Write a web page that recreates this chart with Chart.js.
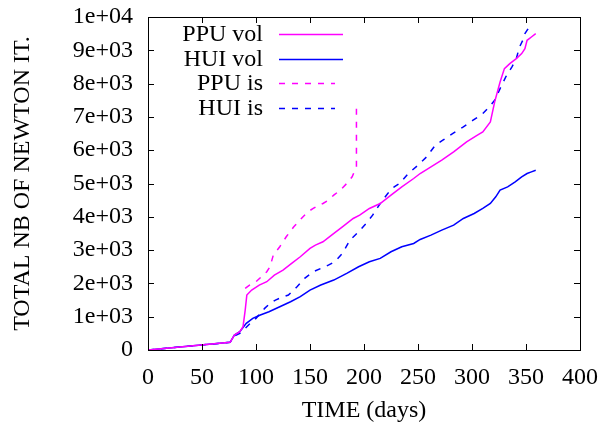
<!DOCTYPE html>
<html>
<head>
<meta charset="utf-8">
<script src="https://cdn.jsdelivr.net/npm/chart.js@4"></script>
<style>html,body{margin:0;padding:0;background:#fff;}canvas{display:block;}</style>
</head>
<body>
<canvas id="c" width="602" height="423"></canvas>
<script>
// ---- data ----
const seriesNames = ['PPU vol', 'HUI vol', 'PPU is', 'HUI is'];

const ppuVolDays = [0, 76, 80, 85, 88, 90, 91.5, 96, 103, 110, 117, 125, 133, 141, 150, 155, 162, 170, 180, 190, 196, 205, 215, 225, 235, 246, 252, 262, 272, 283, 295, 305, 310, 317, 321, 326, 330, 335, 341, 346, 349, 351, 355, 359];
const ppuVolValues = [0, 230, 450, 550, 700, 1200, 1650, 1800, 1950, 2050, 2250, 2400, 2600, 2800, 3050, 3150, 3250, 3450, 3700, 3950, 4050, 4250, 4400, 4650, 4900, 5150, 5300, 5500, 5700, 5950, 6250, 6450, 6550, 6850, 7450, 8050, 8450, 8600, 8750, 8900, 9050, 9300, 9400, 9500];

const huiVolDays = [0, 76, 80, 85, 91, 97, 104, 112, 122, 132, 141, 150, 160, 172, 184, 195, 205, 215, 225, 235, 246, 252, 262, 272, 283, 292, 302, 310, 317, 322, 326, 333, 340, 346, 351, 355, 359];
const huiVolValues = [0, 230, 450, 550, 800, 950, 1050, 1150, 1300, 1450, 1600, 1800, 1950, 2100, 2300, 2500, 2650, 2750, 2950, 3100, 3200, 3320, 3450, 3600, 3750, 3950, 4100, 4250, 4400, 4600, 4800, 4900, 5050, 5200, 5300, 5350, 5400];

const ppuIsDays = [90, 94, 100, 105, 110, 113, 116, 122, 128, 135, 142, 148, 153, 158, 162, 167, 172, 178, 184, 189, 193, 193];
const ppuIsValues = [1850, 1950, 2050, 2200, 2350, 2500, 2850, 3100, 3400, 3700, 3950, 4150, 4250, 4350, 4400, 4500, 4650, 4800, 5000, 5200, 5500, 7300];

const huiIsDays = [0, 76, 80, 85, 90, 94, 100, 108, 113, 118, 124, 130, 138, 145, 153, 160, 167, 173, 180, 187, 195, 202, 208, 215, 222, 228, 233, 241, 250, 258, 266, 273, 282, 292, 301, 310, 316, 321, 326, 332, 337, 341, 344, 347, 349, 352, 355, 357];
const huiIsValues = [0, 230, 420, 500, 650, 780, 950, 1250, 1400, 1500, 1580, 1650, 1900, 2150, 2350, 2450, 2550, 2650, 2900, 3300, 3550, 3800, 4050, 4400, 4700, 4900, 5000, 5300, 5550, 5800, 6150, 6300, 6500, 6700, 6900, 7100, 7300, 7500, 7850, 8250, 8500, 8750, 9100, 9300, 9500, 9650, 9700, 9750];

const xTickValues = [0, 50, 100, 150, 200, 250, 300, 350, 400];
const yTickValues = [0, 1000, 2000, 3000, 4000, 5000, 6000, 7000, 8000, 9000, 10000];
const yTickLabels = ['0', '1e+03', '2e+03', '3e+03', '4e+03', '5e+03', '6e+03', '7e+03', '8e+03', '9e+03', '1e+04'];

const xTitle = 'TIME (days)';
const yTitle = 'TOTAL NB OF NEWTON IT.';

// ---- build ----
const zip = (xs, ys) => xs.map((x, i) => ({x: x, y: ys[i]}));
const MAG = '#ff00ff', BLU = '#0000ff';
const FONT = "'Liberation Serif', 'Times New Roman', serif";
const FS = 24;
const DASH = [6, 7];

const datasets = [
  {label: seriesNames[0], data: zip(ppuVolDays, ppuVolValues), borderColor: MAG, borderDash: []},
  {label: seriesNames[1], data: zip(huiVolDays, huiVolValues), borderColor: BLU, borderDash: []},
  {label: seriesNames[2], data: zip(ppuIsDays, ppuIsValues), borderColor: MAG, borderDash: DASH},
  {label: seriesNames[3], data: zip(huiIsDays, huiIsValues), borderColor: BLU, borderDash: DASH}
].map(d => Object.assign(d, {borderWidth: 1.5, pointRadius: 0, tension: 0, fill: false}));

const framePlugin = {
  id: 'frame',
  afterDraw(chart) {
    const ctx = chart.ctx, a = chart.chartArea;
    const xs = chart.scales.x, ys = chart.scales.y;
    ctx.save();
    ctx.strokeStyle = '#000';
    ctx.lineWidth = 1;
    ctx.setLineDash([]);
    ctx.strokeRect(Math.round(a.left) + 0.5, Math.round(a.top) + 0.5, Math.round(a.right - a.left), Math.round(a.bottom - a.top));
    const tl = 6;
    ctx.beginPath();
    xTickValues.forEach(v => {
      const p = Math.round(xs.getPixelForValue(v)) + 0.5;
      ctx.moveTo(p, a.bottom); ctx.lineTo(p, a.bottom - tl);
      ctx.moveTo(p, a.top); ctx.lineTo(p, a.top + tl);
    });
    yTickValues.forEach(v => {
      const p = Math.round(ys.getPixelForValue(v)) + 0.5;
      ctx.moveTo(a.left, p); ctx.lineTo(a.left + tl, p);
      ctx.moveTo(a.right, p); ctx.lineTo(a.right - tl, p);
    });
    ctx.stroke();
    // legend (gnuplot style: right-aligned text, sample to the right)
    ctx.font = FS + 'px ' + FONT;
    ctx.fillStyle = '#000';
    ctx.textAlign = 'right';
    ctx.textBaseline = 'middle';
    const textRight = a.left + 115, s0 = a.left + 131, s1 = a.left + 195;
    datasets.forEach((d, i) => {
      const y = a.top + 17 + i * 24.5;
      ctx.fillText(d.label, textRight, y + 1);
      ctx.strokeStyle = d.borderColor;
      ctx.lineWidth = 1.5;
      ctx.setLineDash(d.borderDash);
      ctx.beginPath();
      ctx.moveTo(s0, Math.round(y) + 0.5);
      ctx.lineTo(d.borderDash.length ? s1 - 8 : s1, Math.round(y) + 0.5);
      ctx.stroke();
    });
    ctx.restore();
  }
};

new Chart(document.getElementById('c'), {
  type: 'line',
  data: {datasets: datasets},
  options: {
    responsive: false,
    devicePixelRatio: 1,
    animation: false,
    parsing: true,
    layout: {padding: {left: 0, right: 22, top: 17, bottom: 0}},
    plugins: {legend: {display: false}, tooltip: {enabled: false}},
    scales: {
      x: {
        type: 'linear', min: 0, max: 400,
        afterBuildTicks: s => { s.ticks = xTickValues.map(v => ({value: v})); },
        afterFit: s => { s.height = 73; s.paddingLeft = 0; s.paddingRight = 0; },
        grid: {display: false, drawTicks: false},
        border: {display: false},
        ticks: {color: '#000', font: {family: FONT, size: FS}, padding: 13, maxRotation: 0, autoSkip: false,
                callback: v => String(v)},
        title: {display: true, text: xTitle, color: '#000', font: {family: FONT, size: FS, lineHeight: 1}, padding: {top: 0, bottom: 0}}
      },
      y: {
        type: 'linear', min: 0, max: 10000,
        afterBuildTicks: s => { s.ticks = yTickValues.map(v => ({value: v})); },
        afterFit: s => { s.width = 148; s.paddingTop = 0; s.paddingBottom = 0; },
        grid: {display: false, drawTicks: false},
        border: {display: false},
        ticks: {color: '#000', font: {family: FONT, size: FS}, padding: 15, autoSkip: false,
                callback: (v) => yTickLabels[yTickValues.indexOf(v)]},
        title: {display: true, text: yTitle, color: '#000', font: {family: FONT, size: FS}, padding: {top: 8, bottom: 0}}
      }
    }
  },
  plugins: [framePlugin]
});
</script>
</body>
</html>
